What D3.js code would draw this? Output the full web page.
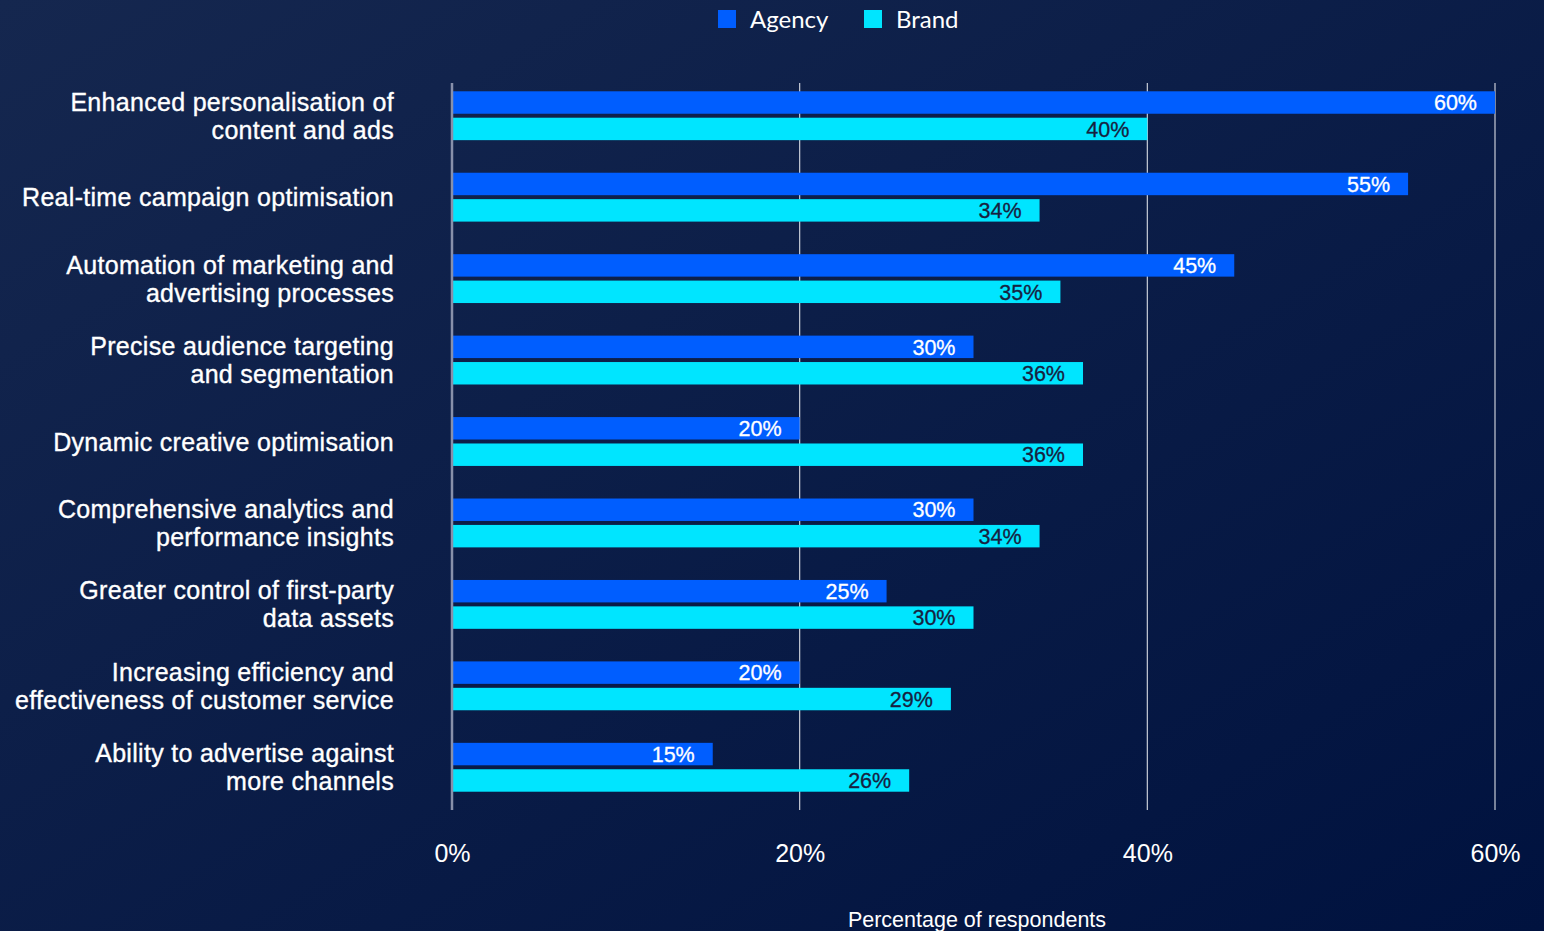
<!DOCTYPE html>
<html>
<head>
<meta charset="utf-8">
<script src="https://cdn.jsdelivr.net/npm/d3@7"></script>
<style>
  html, body { margin: 0; padding: 0; overflow: hidden; }
  body { width: 1544px; height: 931px; }
</style>
</head>
<body>
<div id="chart"></div>
<script>
const categories = [
  ['Enhanced personalisation of', 'content and ads'],
  ['Real-time campaign optimisation'],
  ['Automation of marketing and', 'advertising processes'],
  ['Precise audience targeting', 'and segmentation'],
  ['Dynamic creative optimisation'],
  ['Comprehensive analytics and', 'performance insights'],
  ['Greater control of first-party', 'data assets'],
  ['Increasing efficiency and', 'effectiveness of customer service'],
  ['Ability to advertise against', 'more channels']
];
const agencyValues = [60, 55, 45, 30, 20, 30, 25, 20, 15];
const brandValues = [40, 33.8, 35, 36.3, 36.3, 33.8, 30, 28.7, 26.3];
const xTicks = [0, 20, 40, 60];
const seriesNames = ['Agency', 'Brand'];

const W = 1544, H = 931;
const margin = { top: 75, right: 49, bottom: 123, left: 452 };
const colors = { Agency: '#005eff', Brand: '#00e5ff' };
const font = 'Liberation Sans, Arial, sans-serif';

const svg = d3.select('#chart')
  .append('svg')
  .attr('width', W)
  .attr('height', H);

// background gradient
const defs = svg.append('defs');
const bg = defs.append('linearGradient')
  .attr('id', 'bg')
  .attr('x1', '0%').attr('y1', '0%')
  .attr('x2', '100%').attr('y2', '100%');
bg.append('stop').attr('offset', '0%').attr('stop-color', '#15274f');
bg.append('stop').attr('offset', '100%').attr('stop-color', '#00123f');
svg.append('rect').attr('width', W).attr('height', H).attr('fill', 'url(#bg)');

const x = d3.scaleLinear()
  .domain([0, 60])
  .range([margin.left, W - margin.right]);

const y = d3.scaleBand()
  .domain(d3.range(categories.length))
  .range([margin.top, H - margin.bottom])
  .paddingInner(0.4)
  .paddingOuter(0.2);

const sub = d3.scaleBand()
  .domain(seriesNames)
  .range([0, y.bandwidth()])
  .paddingInner(0.15);

// gridlines (behind bars)
svg.append('g')
  .selectAll('line')
  .data(xTicks.filter((d) => d !== 0))
  .join('line')
  .attr('x1', (d) => x(d))
  .attr('x2', (d) => x(d))
  .attr('y1', 83)
  .attr('y2', 810)
  .attr('stroke', '#c9cdd8')
  .attr('stroke-width', 1.2);

// bars
const rows = categories.map((c, i) => ({
  i,
  Agency: agencyValues[i],
  Brand: brandValues[i]
}));

const groups = svg.append('g')
  .selectAll('g')
  .data(rows)
  .join('g')
  .attr('transform', (d) => `translate(0,${y(d.i)})`);

seriesNames.forEach((s) => {
  groups.append('rect')
    .attr('x', x(0))
    .attr('y', sub(s))
    .attr('width', (d) => x(d[s]) - x(0))
    .attr('height', sub.bandwidth())
    .attr('fill', colors[s]);

  groups.append('text')
    .attr('x', (d) => x(d[s]) - 18)
    .attr('y', sub(s) + sub.bandwidth() / 2)
    .attr('dy', '0.36em')
    .attr('text-anchor', 'end')
    .attr('font-family', font)
    .attr('font-size', 21.5)
    .attr('fill', s === 'Agency' ? '#ffffff' : '#17213f')
    .attr('stroke', s === 'Agency' ? '#ffffff' : '#17213f')
    .attr('stroke-width', 0.3)
    .text((d) => Math.round(d[s]) + '%');
});

// zero line on top
svg.append('line')
  .attr('x1', x(0))
  .attr('x2', x(0))
  .attr('y1', 83)
  .attr('y2', 810)
  .attr('stroke', '#8890aa')
  .attr('stroke-width', 2.5);

// category labels
const labels = svg.append('g')
  .selectAll('text')
  .data(categories)
  .join('text')
  .attr('text-anchor', 'end')
  .attr('font-family', font)
  .attr('font-size', 25)
  .attr('letter-spacing', 0.3)
  .attr('fill', '#ffffff')
  .attr('stroke', '#ffffff')
  .attr('stroke-width', 0.35)
  .attr('transform', (d, i) => `translate(394,${y(i) + y.bandwidth() / 2})`);

labels.selectAll('tspan')
  .data((d) => d.map((t, j) => ({ t, j, n: d.length })))
  .join('tspan')
  .attr('x', 0)
  .attr('y', (d) => (d.j - (d.n - 1) / 2) * 28)
  .attr('dy', '0.36em')
  .text((d) => d.t);

// x axis
const xAxis = svg.append('g')
  .attr('transform', 'translate(0,853)')
  .call(d3.axisBottom(x).tickValues(xTicks).tickFormat((d) => d + '%').tickSize(0));
xAxis.select('.domain').remove();
xAxis.selectAll('text')
  .attr('y', 0)
  .attr('dy', '0.36em')
  .attr('font-family', font)
  .attr('font-size', 25)
  .attr('fill', '#ffffff');

svg.append('text')
  .attr('x', 977)
  .attr('y', 927)
  .attr('text-anchor', 'middle')
  .attr('font-family', font)
  .attr('font-size', 21.5)
  .attr('fill', '#ffffff')
  .text('Percentage of respondents');

// legend
const legendPos = [718, 864];
const legend = svg.append('g')
  .selectAll('g')
  .data(seriesNames)
  .join('g')
  .attr('transform', (d, i) => `translate(${legendPos[i]},10)`);
legend.append('rect')
  .attr('width', 18)
  .attr('height', 18)
  .attr('fill', (d) => colors[d]);
legend.append('text')
  .attr('x', 32)
  .attr('y', 18)
  .attr('font-family', 'Lato, sans-serif')
  .attr('font-size', 24)
  .attr('fill', '#ffffff')
  .text((d) => d);
</script>
</body>
</html>
